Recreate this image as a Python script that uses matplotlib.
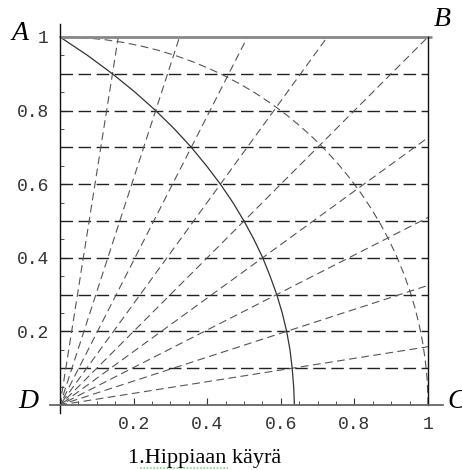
import matplotlib
matplotlib.use("Agg")
import matplotlib.pyplot as plt
from matplotlib.patches import Arc, Rectangle
from matplotlib.lines import Line2D
import numpy as np

# horizontal dashed levels and radial angles (degrees) from D
levels = [0.1, 0.2, 0.3, 0.4, 0.5, 0.6, 0.7, 0.8, 0.9]
angles = [9, 18, 27, 36, 45, 54, 63, 72, 81]

# quadratrix points
quad_y = [0.0, 0.05, 0.1, 0.15, 0.2, 0.25, 0.3, 0.35, 0.4, 0.45, 0.5,
          0.55, 0.6, 0.65, 0.7, 0.75, 0.8, 0.85, 0.9, 0.95, 1.0]
quad_x = [0.637, 0.635, 0.631, 0.625, 0.616, 0.604, 0.589, 0.571, 0.551, 0.527, 0.5,
          0.470, 0.436, 0.398, 0.357, 0.311, 0.260, 0.204, 0.1425, 0.0748, 0.0]

xticks = [0.2, 0.4, 0.6, 0.8, 1.0]
xticklabels = ["0.2", "0.4", "0.6", "0.8", "1"]
yticks = [0.2, 0.4, 0.6, 0.8, 1.0]
yticklabels = ["0.2", "0.4", "0.6", "0.8", "1"]

fig = plt.figure(figsize=(4.62, 4.70), dpi=100)
ax = fig.add_axes([0.0502, 0.06, 0.9558, 0.9396])
ax.set_xlim(-0.1, 1.1)
ax.set_ylim(-0.1, 1.1)

dash = (0, (9, 4))

# horizontal dashed lines
for y in levels:
    ax.plot([0, 1], [y, y], color="#222222", lw=1.0, linestyle=dash)

# radial dashed lines, clipped to the square
square = Rectangle((0, 0), 1, 1, transform=ax.transData, fill=False, lw=0)
ax.add_patch(square)
for a in angles:
    ln = ax.axline((0, 0), slope=np.tan(np.radians(a)), color="#555555", lw=0.8,
                   linestyle=(0, (7, 4)))
    ln.set_clip_path(square)

# quarter circle
ax.add_patch(Arc((0, 0), 2, 2, theta1=0, theta2=90, color="#555555", lw=0.8,
                 linestyle=(0, (7, 4))))

# quadratrix
ax.plot(quad_x, quad_y, color="#333333", lw=0.9)

# square sides
ax.plot([0, 1.01], [1, 1], color="#888888", lw=2.0, solid_capstyle="butt")
ax.plot([1, 1], [0, 1], color="#111111", lw=1.0)

# axes through the origin
for s in ["top", "right"]:
    ax.spines[s].set_visible(False)
ax.spines["left"].set_position(("data", 0))
ax.spines["bottom"].set_position(("data", 0))
ax.spines["left"].set_bounds(-0.022, 1.035)
ax.spines["bottom"].set_bounds(-0.027, 1.04)
ax.spines["left"].set_color("#111111")
ax.spines["bottom"].set_color("#666666")
ax.spines["left"].set_linewidth(1.0)
ax.spines["bottom"].set_linewidth(1.3)

ax.set_xticks(xticks)
ax.set_xticklabels(xticklabels)
ax.set_yticks(yticks)
ax.set_yticklabels(yticklabels)
ax.set_xticks(np.arange(0.05, 1.0, 0.05), minor=True)
ax.set_yticks(np.arange(0.05, 1.0, 0.05), minor=True)
ax.tick_params(direction="in", length=5, width=0.8, colors="#333333",
               labelsize=13, pad=8)
ax.tick_params(which="minor", direction="in", length=3, width=0.6, colors="#333333")
for lab in ax.get_xticklabels() + ax.get_yticklabels():
    lab.set_family("Liberation Mono")

# corner letters
corner = dict(fontsize=20, family="Liberation Serif", style="italic",
              ha="center", va="center", transform=fig.transFigure)
fig.text(20 / 462, 1 - 34 / 470, "A", **corner)
fig.text(442 / 462, 1 - 20 / 470, "B", **corner)
fig.text(457 / 462, 1 - 402 / 470, "C", **corner)
fig.text(28 / 462, 1 - 401 / 470, "D", **corner)

# caption
fig.text(205 / 462, 1 - 459 / 470, "1.Hippiaan käyrä", fontsize=16,
         family="Liberation Serif", ha="center", va="center")
fig.add_artist(Line2D([140 / 462, 228 / 462], [1 - 468 / 470, 1 - 468 / 470],
                      transform=fig.transFigure, color="#8fd18f", lw=1.2,
                      linestyle=(0, (1, 1))))

fig.savefig("out.png", dpi=100)
